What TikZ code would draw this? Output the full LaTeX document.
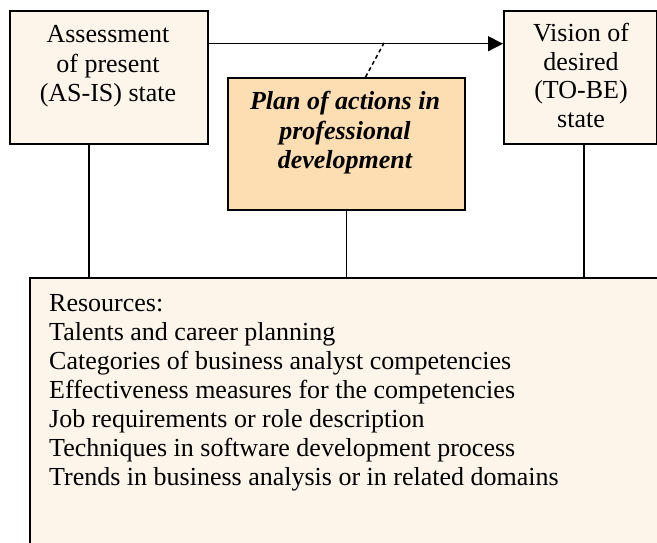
\documentclass[tikz,border=0pt]{standalone}
\usepackage{fontspec}
\setmainfont{Liberation Serif}
\usetikzlibrary{calc,arrows.meta}
\definecolor{cream}{RGB}{254,245,234}
\definecolor{peach}{RGB}{252,222,178}
\begin{document}
\begin{tikzpicture}[x=1pt,y=-1pt,
  box/.style={draw=black,line width=1.9pt,anchor=north west,inner sep=0pt},
  conn/.style={draw=black,line width=1.5pt},
  txt/.style={inner sep=0pt,align=center,anchor=north}]
\useasboundingbox (0,0) rectangle (657,542);
% boxes
\node[box,fill=cream,minimum width=198pt,minimum height=133pt] (A) at (9,10) {};
\node[box,fill=cream,minimum width=153pt,minimum height=133pt] (V) at (503,10) {};
\node[box,fill=peach,minimum width=237pt,minimum height=132pt] (P) at (227,77) {};
\node[box,fill=cream,minimum width=640pt,minimum height=280pt] (R) at (29,277) {};
% texts
\node[txt,font=\fontsize{26}{29.5}\selectfont] (At) at (108,25.5) {Assessment\\of present\\(AS-IS) state};
\node[txt,font=\fontsize{26}{28.5}\selectfont] (Vt) at (581,23) {Vision of\\desired\\(TO-BE)\\state};
\node[txt,font=\fontsize{26}{29.5}\selectfont\bfseries\itshape] (Pt) at (345,91) {Plan of actions in\\professional\\development};
\node[inner sep=0pt,align=left,anchor=north west,font=\fontsize{26}{29}\selectfont] (Rt) at (49,294.5) {Resources:\\Talents and career planning\\Categories of business analyst competencies\\Effectiveness measures for the competencies\\Job requirements or role description\\Techniques in software development process\\Trends in business analysis or in related domains};
% connectors
\coordinate (a0) at ($(A.north east)!0.25!(A.south east)$);
\coordinate (v0) at ($(V.north west)!0.25!(V.south west)$);
\draw[conn,-{Triangle[length=15pt,width=15pt]}] (a0) -- (v0);
\coordinate (pd) at ($(P.north west)!0.58!(P.north east)$);
\coordinate (ad) at (384,43);
\draw[conn,dash pattern=on 4pt off 3pt] (pd) -- (ad);
\coordinate (a1) at ($(A.south west)!0.4!(A.south east)$);
\coordinate (v1) at ($(V.south west)!0.523!(V.south east)$);
\draw[conn] (a1) -- (a1 |- R.north);
\draw[conn] (P.south) -- (P.south |- R.north);
\draw[conn] (v1) -- (v1 |- R.north);
\end{tikzpicture}
\end{document}
